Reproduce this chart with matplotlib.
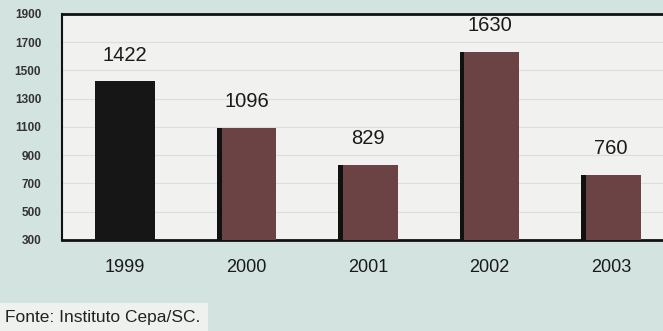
import matplotlib.pyplot as plt
import numpy as np

plt.rcParams['font.family'] = ['Liberation Sans', 'DejaVu Sans']

# Data
years = ["1999", "2000", "2001", "2002", "2003"]
values = [1422, 1096, 829, 1630, 760]
yticks = [300, 500, 700, 900, 1100, 1300, 1500, 1700, 1900]

colors = ["#161616", "#6b4345", "#6b4345", "#6b4345", "#6b4345"]

fig = plt.figure(figsize=(6.63, 3.31), dpi=100)
fig.patch.set_facecolor("#d3e3df")
ax = fig.add_axes([0.0935, 0.275, 0.9065, 0.683])
ax.set_facecolor("#f1f2f0")

x = np.arange(len(years))
base = 300
ax.bar(x, np.array(values) - base, bottom=base, width=0.49,
       color=colors, zorder=3)
# thin dark shadow on the left edge of the brown bars
ax.bar(x[1:] - 0.225, np.array(values[1:]) - base, bottom=base, width=0.04,
       color="#111111", zorder=4)

for xi, v in zip(x, values):
    ax.annotate(str(v), (xi, v), xytext=(0, 19), textcoords="offset points",
                ha="center", va="center", fontsize=14.5, color="#1a1a1a")

ax.set_xlim(-0.52, 4.43)
ax.set_ylim(300, 1900)
ax.set_yticks(yticks)
ax.set_yticklabels([str(t) for t in yticks], fontsize=8.5, fontweight="bold",
                   color="#333333")
ax.set_xticks(x)
ax.set_xticklabels(years, fontsize=13, color="#1a1a1a")
ax.tick_params(axis="x", length=0, pad=14)
ax.tick_params(axis="y", length=0, pad=15)
ax.grid(axis="y", color="#dcdedc", linewidth=0.8, zorder=0)

ax.spines["right"].set_visible(False)
for s in ["left", "bottom", "top"]:
    ax.spines[s].set_color("#111111")
ax.spines["left"].set_linewidth(1.5)
ax.spines["bottom"].set_linewidth(2)
ax.spines["top"].set_linewidth(2)

fig.text(0.008, 0.04, "Fonte: Instituto Cepa/SC.", fontsize=12.5,
         color="#222222", va="center",
         bbox=dict(boxstyle="square,pad=0.4", fc="#eef1ee", ec="none"))

fig.savefig("out.png", dpi=100, facecolor=fig.get_facecolor())
